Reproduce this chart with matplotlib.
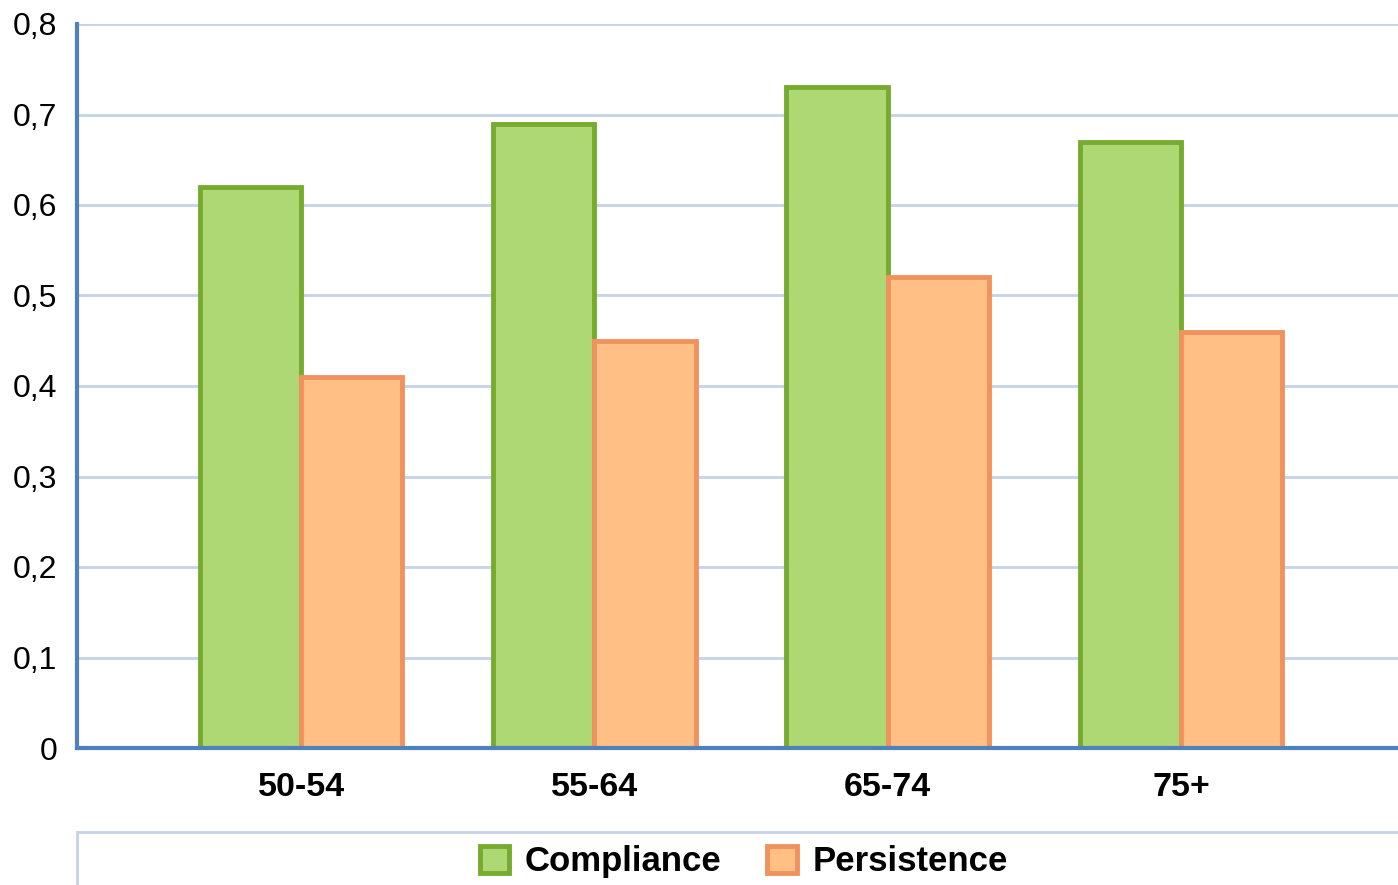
import matplotlib.pyplot as plt
import numpy as np
from matplotlib.patches import Rectangle

plt.rcParams['font.family'] = ['Liberation Sans', 'DejaVu Sans']

categories = ['50-54', '55-64', '65-74', '75+']
compliance = [0.62, 0.69, 0.73, 0.67]
persistence = [0.41, 0.45, 0.52, 0.46]
yticks = [0, 0.1, 0.2, 0.3, 0.4, 0.5, 0.6, 0.7, 0.8]

fig = plt.figure(figsize=(13.98, 8.85), dpi=100)
ax = fig.add_axes([77/1398, 137/885, 1 - 77/1398, (748 - 24)/885])

x = np.arange(len(categories))
w = 0.345
ax.bar(x - w/2, compliance, w, color='#AED874', edgecolor='#77AB2F',
       linewidth=3.5, label='Compliance', zorder=3)
ax.bar(x + w/2, persistence, w, color='#FFBF85', edgecolor='#F0925E',
       linewidth=3.5, label='Persistence', zorder=3)

ax.set_xlim(-0.764, 3.74)
ax.set_ylim(0, 0.8)
ax.set_yticks(yticks)
ax.set_yticklabels([('%.1f' % v).replace('.', ',') if v else '0' for v in yticks],
                   fontsize=23)
ax.set_xticks(x)
ax.set_xticklabels(categories, fontsize=24.5, fontweight='bold')
ax.tick_params(axis='y', length=0, pad=14)
ax.tick_params(axis='x', length=0, pad=17)

ax.grid(axis='y', color='#C5D3E6', linewidth=2, zorder=0)
ax.set_axisbelow(True)
for s in ['top', 'right']:
    ax.spines[s].set_visible(False)
for s in ['left', 'bottom']:
    ax.spines[s].set_color('#4F81BD')
    ax.spines[s].set_linewidth(3)
    ax.spines[s].set_zorder(4)

# legend frame
fig.patches.append(Rectangle((77/1398, -0.01), 1.0, (885 - 832)/885 + 0.01,
                             transform=fig.transFigure, facecolor='white',
                             edgecolor='#C5D3E6', linewidth=2))
fig.legend(loc='center', bbox_to_anchor=(0.532, 0.026), ncol=2, frameon=False,
           prop={'size': 25, 'weight': 'bold'}, handlelength=0.85,
           handleheight=0.85, handletextpad=0.45, columnspacing=1.3)

fig.savefig('out.png', dpi=100)
